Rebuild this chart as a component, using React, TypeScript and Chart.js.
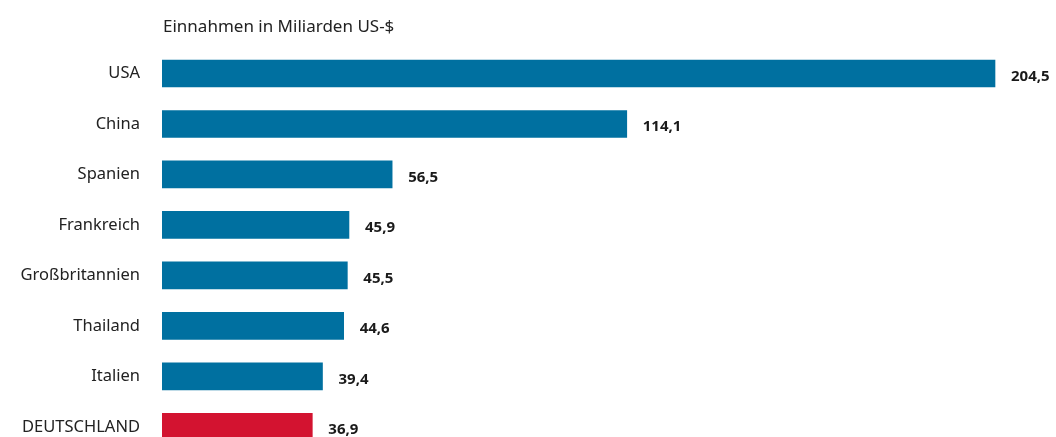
import React, { useEffect, useRef } from "react";
import { Chart, registerables } from "chart.js";

Chart.register(...registerables);

const categories = ["USA", "China", "Spanien", "Frankreich", "Großbritannien", "Thailand", "Italien", "DEUTSCHLAND"];
const values = [204.5, 114.1, 56.5, 45.9, 45.5, 44.6, 39.4, 36.9];
const barColors = ["#0070a0", "#0070a0", "#0070a0", "#0070a0", "#0070a0", "#0070a0", "#0070a0", "#d31330"];
const titleText = "Einnahmen in Miliarden US-$";

const FONT = "'Noto Sans', Lato, sans-serif";

const fmt = (v: number) => v.toFixed(1).replace(".", ",");

const labelPlugin = {
  id: "valueLabels",
  afterDatasetsDraw(chart: any) {
    const ctx = chart.ctx;
    const meta = chart.getDatasetMeta(0);
    ctx.save();
    ctx.font = `bold 15px ${FONT}`;
    ctx.fillStyle = "#1a1a1a";
    ctx.textAlign = "left";
    ctx.textBaseline = "middle";
    meta.data.forEach((bar: any, i: number) => {
      ctx.fillText(fmt(values[i]), bar.x + 16, bar.y + 3);
    });
    ctx.font = `17px ${FONT}`;
    ctx.fillStyle = "#222";
    ctx.fillText(titleText, chart.chartArea.left + 1, 27);
    ctx.restore();
  },
};

export default function App() {
  const ref = useRef<HTMLCanvasElement>(null);
  useEffect(() => {
    if (!ref.current) return;
    const chart = new Chart(ref.current, {
      type: "bar",
      data: {
        labels: categories,
        datasets: [
          {
            data: values,
            backgroundColor: barColors,
            barThickness: 27,
            borderWidth: 0,
          },
        ],
      },
      options: {
        indexAxis: "y",
        animation: false,
        responsive: false,
        maintainAspectRatio: false,
        layout: { padding: { top: 48.25, bottom: 4.25, left: 0, right: 38.6 } },
        plugins: { legend: { display: false }, tooltip: { enabled: false }, title: { display: false } },
        scales: {
          x: { display: false, min: 0, max: 210 },
          y: {
            afterFit: (scale: any) => {
              scale.width = 162;
            },
            grid: { display: false, drawTicks: false },
            border: { display: false },
            ticks: { padding: 22, color: "#222", font: { family: FONT, size: 16.5 } },
          },
        },
      },
      plugins: [labelPlugin],
    });
    return () => chart.destroy();
  }, []);
  return (
    <div style={{ position: "fixed", left: 0, top: 0, width: 1056, height: 437, overflow: "hidden", background: "#fff" }}>
      <canvas ref={ref} width={1056} height={484} style={{ display: "block" }} />
    </div>
  );
}
